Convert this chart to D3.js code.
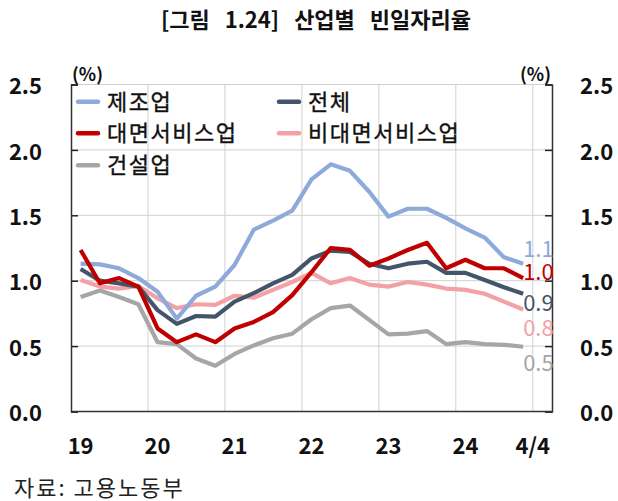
<!DOCTYPE html>
<html>
<head>
<meta charset="utf-8">
<script src="https://cdn.jsdelivr.net/npm/d3@7"></script>
<style>
  body { margin: 0; background: #fff; }
  svg { display: block; font-family: "Noto Sans CJK KR", "Noto Sans", sans-serif; }
</style>
</head>
<body>
<div id="chart"></div>
<script>
// 분기 (2019Q1 ~ 2024Q4), 축은 2025Q1까지
const quarters = [];
for (let yr = 2019; yr <= 2024; yr++) for (let q = 1; q <= 4; q++) quarters.push(yr + "Q" + q);
const axisQuarters = quarters.concat(["2025Q1"]);

const yearLabels = ["19", "20", "21", "22", "23", "24"];
const yTicks = [0, 0.5, 1.0, 1.5, 2.0, 2.5];

const manufacturing = [1.13, 1.125, 1.095, 1.02, 0.915, 0.71, 0.885, 0.955, 1.12, 1.39, 1.46, 1.535,
  1.775, 1.89, 1.84, 1.68, 1.49, 1.55, 1.55, 1.48, 1.40, 1.33, 1.18, 1.13];
const total = [1.09, 1.0, 0.98, 0.955, 0.775, 0.67, 0.73, 0.725, 0.84, 0.905, 0.98, 1.045,
  1.17, 1.23, 1.22, 1.13, 1.095, 1.13, 1.145, 1.06, 1.06, 1.005, 0.95, 0.90];
const faceToFace = [1.235, 0.98, 1.02, 0.955, 0.635, 0.53, 0.59, 0.53, 0.635, 0.685, 0.76, 0.89,
  1.065, 1.25, 1.235, 1.115, 1.17, 1.235, 1.29, 1.095, 1.16, 1.095, 1.095, 1.02];
const nonFaceToFace = [1.005, 0.955, 0.94, 0.96, 0.865, 0.79, 0.82, 0.815, 0.885, 0.87, 0.93, 0.99,
  1.06, 0.98, 1.02, 0.97, 0.955, 0.99, 0.97, 0.94, 0.93, 0.90, 0.84, 0.78];
const construction = [0.875, 0.925, 0.875, 0.82, 0.53, 0.515, 0.405, 0.35, 0.44, 0.505, 0.56, 0.595,
  0.705, 0.79, 0.81, 0.70, 0.59, 0.595, 0.615, 0.515, 0.53, 0.515, 0.51, 0.495];

const series = [
  { name: "제조업", values: manufacturing, color: "#8eaadb", labelDy: -15 },
  { name: "전체", values: total, color: "#44546a", labelDy: 9 },
  { name: "대면서비스업", values: faceToFace, color: "#c00000", labelDy: -6 },
  { name: "비대면서비스업", values: nonFaceToFace, color: "#f2a2a6", labelDy: 19 },
  { name: "건설업", values: construction, color: "#a6a6a6", labelDy: 16 }
];
// 그리는 순서 (아래 → 위)
const drawOrder = ["건설업", "비대면서비스업", "제조업", "전체", "대면서비스업"];

const W = 618, H = 501;
const plotL = 71, plotR = 552, plotT = 84.5, plotB = 411.5;

const svg = d3.select("#chart").append("svg")
  .attr("width", W).attr("height", H);

svg.append("rect").attr("width", W).attr("height", H).attr("fill", "#fff");

const x = d3.scaleBand().domain(axisQuarters).range([plotL, plotR]).padding(0);
const y = d3.scaleLinear().domain([0, 2.5]).range([plotB, plotT]);
const xc = q => x(q) + x.bandwidth() / 2;

// 제목
svg.append("text")
  .attr("x", 316).attr("y", 28)
  .attr("text-anchor", "middle")
  .attr("font-size", 22).attr("font-weight", "bold")
  .attr("word-spacing", 10)
  .attr("fill", "#111")
  .text("[그림 1.24] 산업별 빈일자리율");

// 격자
const grid = svg.append("g");
grid.selectAll("line.h").data(yTicks.filter(d => d > 0)).join("line")
  .attr("x1", plotL).attr("x2", plotR)
  .attr("y1", d => y(d)).attr("y2", d => y(d))
  .attr("stroke", "#d0d0d0").attr("stroke-width", 1);
grid.selectAll("line.v").data(yearLabels.slice(1).map(d => "20" + d + "Q1").concat(["2025Q1"])).join("line")
  .attr("x1", d => x(d)).attr("x2", d => x(d))
  .attr("y1", plotT).attr("y2", plotB)
  .attr("stroke", "#d0d0d0").attr("stroke-width", 1);

// 축
const yAxisL = d3.axisLeft(y).tickValues(yTicks).tickSize(-7).tickFormat(d3.format(".1f")).tickPadding(29);
const yAxisR = d3.axisRight(y).tickValues(yTicks).tickSize(-7).tickFormat(d3.format(".1f")).tickPadding(28);

const gL = svg.append("g").attr("transform", `translate(${plotL},0)`).call(yAxisL);
const gR = svg.append("g").attr("transform", `translate(${plotR},0)`).call(yAxisR);
[gL, gR].forEach(g => {
  g.select(".domain").attr("stroke", "#333").attr("stroke-width", 1.5);
  g.selectAll(".tick line").attr("stroke", "#222").attr("stroke-width", 1.5);
  g.selectAll(".tick text")
    .attr("font-size", 22).attr("font-weight", "bold")
    .attr("font-family", "'Noto Sans CJK KR', sans-serif")
    .attr("fill", "#111").attr("dy", "0.42em");
});

svg.append("line")
  .attr("x1", plotL).attr("x2", plotR)
  .attr("y1", plotB).attr("y2", plotB)
  .attr("stroke", "#333").attr("stroke-width", 1.5);

// x축 레이블
const xLabels = yearLabels.map(d => ({ t: d, pos: xc("20" + d + "Q1") }));
xLabels.push({ t: "4/4", pos: x("2025Q1") });
svg.append("g").selectAll("text").data(xLabels).join("text")
  .attr("x", d => d.pos).attr("y", 454)
  .attr("text-anchor", "middle")
  .attr("font-size", 22).attr("font-weight", "bold")
  .attr("fill", "#111")
  .text(d => d.t);

// 단위
svg.append("text").attr("x", 72).attr("y", 81)
  .attr("font-size", 18).attr("font-weight", "bold").attr("fill", "#111").text("(%)");
svg.append("text").attr("x", 551).attr("y", 81).attr("text-anchor", "end")
  .attr("font-size", 18).attr("font-weight", "bold").attr("fill", "#111").text("(%)");

// 선
const line = d3.line()
  .x((d, i) => xc(quarters[i]))
  .y(d => y(d));

const byName = new Map(series.map(s => [s.name, s]));
svg.append("g").selectAll("path")
  .data(drawOrder.map(n => byName.get(n)))
  .join("path")
  .attr("d", d => line(d.values))
  .attr("fill", "none")
  .attr("stroke", d => d.color)
  .attr("stroke-width", 4.2)
  .attr("stroke-linejoin", "round");

// 끝값 레이블
svg.append("g").selectAll("text")
  .data(series)
  .join("text")
  .attr("x", xc(quarters[quarters.length - 1]))
  .attr("y", d => y(d.values[d.values.length - 1]) + d.labelDy)
  .attr("dy", "0.36em")
  .attr("font-size", 22)
  .attr("fill", d => d.color)
  .text(d => d3.format(".1f")(d.values[d.values.length - 1]));

// 범례
const legendPos = [
  { name: "제조업", lx: 78, ly: 101.7 },
  { name: "전체", lx: 279, ly: 101.7 },
  { name: "대면서비스업", lx: 78, ly: 133.3 },
  { name: "비대면서비스업", lx: 279, ly: 133.3 },
  { name: "건설업", lx: 78, ly: 165.3 }
];
const lg = svg.append("g").selectAll("g").data(legendPos).join("g")
  .attr("transform", d => `translate(${d.lx},${d.ly})`);
lg.append("line")
  .attr("x1", 0).attr("x2", 20)
  .attr("stroke", d => byName.get(d.name).color)
  .attr("stroke-width", 4.5).attr("stroke-linecap", "round");
lg.append("text")
  .attr("x", 29).attr("dy", "0.36em")
  .attr("font-size", 22)
  .attr("letter-spacing", 1.5)
  .attr("fill", "#111")
  .attr("stroke", "#111").attr("stroke-width", 0.35)
  .text(d => d.name);

// 출처
svg.append("text").attr("x", 14).attr("y", 496)
  .attr("font-size", 22).attr("letter-spacing", 2).attr("fill", "#222")
  .text("자료: 고용노동부");
</script>
</body>
</html>
